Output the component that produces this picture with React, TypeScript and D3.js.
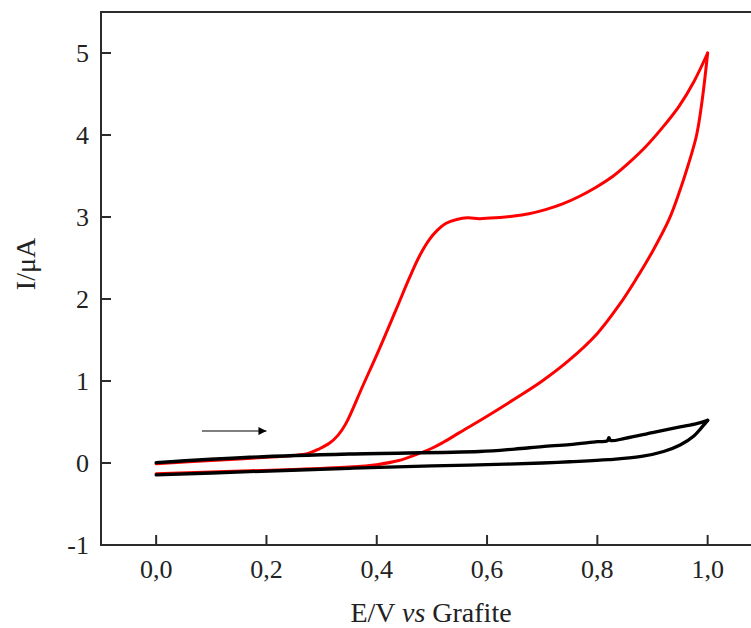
import React from "react";
import * as d3 from "d3";

// Cyclic voltammogram: current (µA) vs potential (V vs graphite)
// Red trace: forward sweep, then reverse sweep
const redForwardE = [0, 0.1, 0.2, 0.25, 0.277, 0.295, 0.314, 0.33, 0.344, 0.374, 0.404, 0.435, 0.46, 0.478, 0.495, 0.51, 0.525, 0.545, 0.565, 0.586, 0.616, 0.646, 0.676, 0.706, 0.737, 0.767, 0.797, 0.827, 0.857, 0.888, 0.918, 0.948, 0.975, 1.0];
const redForwardI = [-0.01, 0.03, 0.07, 0.09, 0.12, 0.17, 0.24, 0.34, 0.48, 0.93, 1.38, 1.87, 2.27, 2.53, 2.72, 2.84, 2.92, 2.97, 2.99, 2.98, 2.99, 3.01, 3.04, 3.09, 3.16, 3.25, 3.36, 3.49, 3.66, 3.86, 4.09, 4.35, 4.65, 5.0];
const redReverseE = [1.0, 0.99, 0.98, 0.965, 0.95, 0.93, 0.9, 0.87, 0.84, 0.8, 0.75, 0.7, 0.65, 0.6, 0.55, 0.52, 0.5, 0.47, 0.44, 0.4, 0.35, 0.25, 0.17, 0.1, 0];
const redReverseI = [5.0, 4.42, 4.0, 3.64, 3.33, 2.97, 2.58, 2.24, 1.93, 1.58, 1.26, 1.0, 0.78, 0.57, 0.37, 0.25, 0.18, 0.1, 0.03, -0.02, -0.05, -0.08, -0.095, -0.11, -0.13];

// Black trace (blank electrode)
const blackForwardE = [0, 0.169, 0.35, 0.586, 0.65, 0.7, 0.75, 0.8, 0.818, 0.821, 0.824, 0.85, 0.9, 0.95, 0.98, 1.0];
const blackForwardI = [0.004, 0.07, 0.11, 0.14, 0.17, 0.2, 0.225, 0.26, 0.27, 0.31, 0.275, 0.3, 0.37, 0.44, 0.48, 0.52];
const blackReverseE = [1.0, 0.99, 0.975, 0.95, 0.92, 0.88, 0.82, 0.75, 0.7, 0.6, 0.5, 0.35, 0.169, 0];
const blackReverseI = [0.52, 0.44, 0.33, 0.22, 0.14, 0.08, 0.04, 0.015, 0.0, -0.02, -0.035, -0.065, -0.106, -0.146];

// Sweep-direction arrow (start/end in data units)
const arrowE = [0.083, 0.2];
const arrowI = [0.39, 0.39];

const xTicks = [0, 0.2, 0.4, 0.6, 0.8, 1.0];
const xTickLabels = ["0,0", "0,2", "0,4", "0,6", "0,8", "1,0"];
const yTicks = [-1, 0, 1, 2, 3, 4, 5];
const yTickLabels = ["-1", "0", "1", "2", "3", "4", "5"];

const W = 751;
const H = 628;

const x = d3.scaleLinear().domain([-0.1, 1.1]).range([101, 762.8]);
const y = d3.scaleLinear().domain([-1, 5.5]).range([545, 12]);

const toPts = (es: number[], is: number[]) => es.map((e, k) => [e, is[k]] as [number, number]);

const line = d3
  .line<[number, number]>()
  .x((d) => x(d[0]))
  .y((d) => y(d[1]))
  .curve(d3.curveCatmullRom.alpha(0.5));

const FONT = "Liberation Serif, Times New Roman, serif";
const AXIS = "#2b2b2b";
const TEXT = "#222";

export default function App() {
  const tickLen = 10;
  const x0 = x.range()[0];
  const x1 = x.range()[1];
  const y0 = y.range()[0];
  const y1 = y.range()[1];
  return (
    <svg
      width={W}
      height={H}
      viewBox={`0 0 ${W} ${H}`}
      style={{ position: "absolute", left: 0, top: 0, background: "#fff" }}
    >
      <defs>
        <marker id="arrowHead" viewBox="0 0 10 10" refX="10" refY="5" markerWidth="13" markerHeight="8" markerUnits="userSpaceOnUse" orient="auto">
          <path d="M0,0 L10,5 L0,10 z" fill="#000" />
        </marker>
      </defs>

      {/* traces: red beneath, black above */}
      <g fill="none" strokeLinejoin="round" strokeLinecap="round">
        <path d={line(toPts(redForwardE, redForwardI)) || ""} stroke="#ff0000" strokeWidth={3} />
        <path d={line(toPts(redReverseE, redReverseI)) || ""} stroke="#ff0000" strokeWidth={3} />
        <path d={line(toPts(blackForwardE, blackForwardI)) || ""} stroke="#000" strokeWidth={3.3} />
        <path d={line(toPts(blackReverseE, blackReverseI)) || ""} stroke="#000" strokeWidth={3.3} />
      </g>

      {/* direction arrow */}
      <line
        x1={x(arrowE[0])}
        y1={y(arrowI[0])}
        x2={x(arrowE[1])}
        y2={y(arrowI[1])}
        stroke="#000"
        strokeWidth={1.2}
        markerEnd="url(#arrowHead)"
      />

      {/* frame */}
      <rect x={x0} y={y1} width={x1 - x0} height={y0 - y1} fill="none" stroke={AXIS} strokeWidth={2} />

      {/* x ticks */}
      {xTicks.map((t, k) => (
        <g key={`xt${k}`}>
          <line x1={x(t)} x2={x(t)} y1={y0} y2={y0 - tickLen} stroke={AXIS} strokeWidth={2} />
          <text x={x(t)} y={578} textAnchor="middle" fontFamily={FONT} fontSize={26} fill={TEXT}>
            {xTickLabels[k]}
          </text>
        </g>
      ))}

      {/* y ticks */}
      {yTicks.map((t, k) => (
        <g key={`yt${k}`}>
          <line x1={x0} x2={x0 + tickLen} y1={y(t)} y2={y(t)} stroke={AXIS} strokeWidth={2} />
          <text x={89} y={y(t) + 9} textAnchor="end" fontFamily={FONT} fontSize={26} fill={TEXT}>
            {yTickLabels[k]}
          </text>
        </g>
      ))}

      {/* axis titles */}
      <text x={431} y={622} textAnchor="middle" fontFamily={FONT} fontSize={28} fill={TEXT}>
        E/V <tspan fontStyle="italic">vs</tspan> Grafite
      </text>
      <text
        transform={`translate(35, 264) rotate(-90)`}
        textAnchor="middle"
        fontFamily={FONT}
        fontSize={28}
        fill={TEXT}
      >
        I/μA
      </text>
    </svg>
  );
}
